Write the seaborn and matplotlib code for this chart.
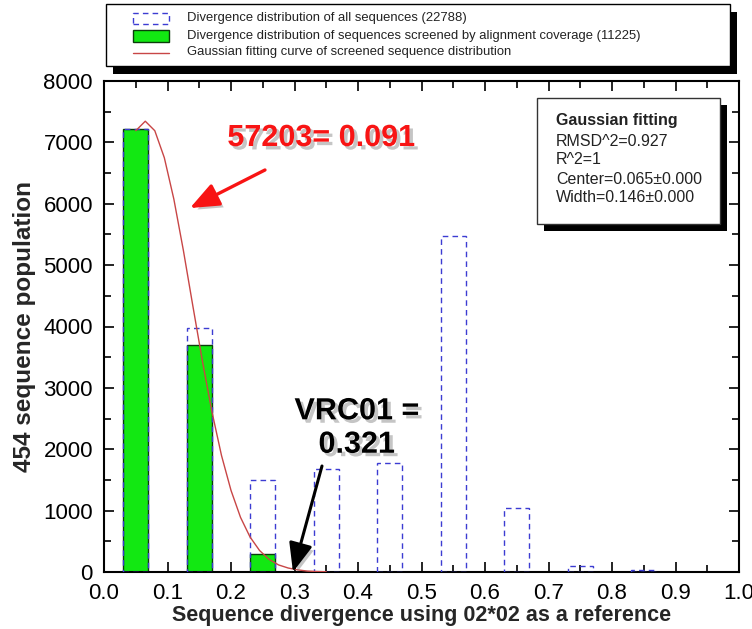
import numpy as np
import pandas as pd
import matplotlib
matplotlib.use("Agg")
import matplotlib.pyplot as plt
import seaborn as sns
from matplotlib.patches import Rectangle
from matplotlib.lines import Line2D
import matplotlib.patheffects as pe
from matplotlib.ticker import MultipleLocator

# ---------------- data ----------------
bin_centers = [0.05, 0.15, 0.25, 0.35, 0.45, 0.55, 0.65, 0.75, 0.85]
all_counts = [7220, 3970, 1500, 1675, 1775, 5470, 1040, 100, 30]
screened_centers = [0.05, 0.15, 0.25]
screened_counts = [7220, 3705, 300]

fit_x = [0.05, 0.065, 0.08, 0.095, 0.11, 0.125, 0.14, 0.155, 0.17, 0.185, 0.20,
         0.215, 0.23, 0.245, 0.26, 0.275, 0.29, 0.305, 0.32, 0.335, 0.35]
fit_y = [7190, 7345, 7190, 6750, 6075, 5240, 4330, 3435, 2610, 1900, 1330,
         890, 570, 350, 205, 115, 65, 35, 15, 8, 4]

legend_labels = ["Divergence distribution of all sequences (22788)",
                 "Divergence distribution of sequences screened by alignment coverage (11225)",
                 "Gaussian fitting curve of screened sequence distribution"]
stats_title = "Gaussian fitting"
stats_lines = ["RMSD^2=0.927", "R^2=1", "Center=0.065\u00b10.000", "Width=0.146\u00b10.000"]

x_ticks = [0.0, 0.1, 0.2, 0.3, 0.4, 0.5, 0.6, 0.7, 0.8, 0.9, 1.0]
y_ticks = [0, 1000, 2000, 3000, 4000, 5000, 6000, 7000, 8000]

x_label = "Sequence divergence using 02*02 as a reference"
y_label = "454 sequence population"

red_note = "57203= 0.091"
red_note_xy = (0.342, 7071)
red_arrow_tail = (0.2535, 6550)
red_arrow_head = (0.1354, 5930)

black_note = "VRC01 =\n0.321"
black_note_xy = (0.398, 2346)
black_arrow_tail = (0.3433, 1727)
black_arrow_head = (0.2976, 0)

# ---------------- style ----------------
W, H = 752, 629
sns.set_style("ticks")
plt.rcParams["font.family"] = ["Liberation Sans", "DejaVu Sans"]

GREEN = "#12e812"
BLUE = "#3c3cd2"
RED_CURVE = "#c84646"
RED_NOTE = "#f81414"

fig = plt.figure(figsize=(W / 100, H / 100), dpi=100)
ax = fig.add_axes([104 / W, 1 - 572 / H, (739 - 104) / W, (572 - 81) / H])

def fx(x):
    return x / W

def fy(y):
    return 1 - y / H

# screened (filled green) bars
sns.barplot(x=screened_centers, y=screened_counts, native_scale=True, width=0.4,
            color=GREEN, saturation=1, edgecolor="#0b3d0b", linewidth=1,
            errorbar=None, ax=ax, zorder=2)
# all sequences (dashed outline)
sns.barplot(x=bin_centers, y=all_counts, native_scale=True, width=0.4,
            fill=False, color=BLUE, edgecolor=BLUE, linewidth=1,
            linestyle=(0, (4, 3)), errorbar=None, ax=ax, zorder=3)
# gaussian curve
sns.lineplot(x=fit_x, y=fit_y, color=RED_CURVE, linewidth=1, sort=False,
             estimator=None, ax=ax, zorder=4)

ax.set_xlim(0, 1)
ax.set_ylim(0, 8000)
ax.set_xticks(x_ticks)
ax.set_xticklabels([f"{t:.1f}" for t in x_ticks])
ax.set_yticks(y_ticks)
ax.set_yticklabels([str(t) for t in y_ticks])
ax.xaxis.set_minor_locator(MultipleLocator(0.05))
ax.yaxis.set_minor_locator(MultipleLocator(500))
ax.tick_params(which="both", direction="in", top=True, right=True,
               labelsize=16, colors="black", width=1.2)
ax.tick_params(which="major", length=7)
ax.tick_params(which="minor", length=5)
ax.tick_params(axis="x", which="major", pad=8)
ax.tick_params(axis="y", which="major", pad=8)
for s in ax.spines.values():
    s.set_visible(True)
    s.set_linewidth(1.5)
    s.set_color("black")
ax.set_xlabel(x_label, fontsize=15.5, fontweight="bold", labelpad=1)
ax.set_ylabel(y_label, fontsize=17.5, fontweight="bold", labelpad=5)
ax.grid(False)
if ax.get_legend() is not None:
    ax.get_legend().remove()

# ---------------- annotations ----------------
shadow = [pe.SimplePatchShadow(offset=(2.5, -2.5), shadow_rgbFace="gray", alpha=0.45), pe.Normal()]
ax.text(*red_note_xy, red_note, color=RED_NOTE, fontsize=22, fontweight="bold",
        ha="center", va="center", path_effects=shadow, zorder=6)
ax.annotate("", xy=red_arrow_head, xytext=red_arrow_tail,
            arrowprops=dict(arrowstyle="-|>,head_length=1.1,head_width=0.45",
                            mutation_scale=16, color=RED_NOTE, lw=2.4,
                            shrinkA=0, shrinkB=0,
                            path_effects=shadow), zorder=6)
ax.text(*black_note_xy, black_note, color="black", fontsize=22, fontweight="bold",
        ha="center", va="center", linespacing=1.15, path_effects=shadow, zorder=6)
ax.annotate("", xy=black_arrow_head, xytext=black_arrow_tail,
            arrowprops=dict(arrowstyle="-|>,head_length=1.1,head_width=0.45",
                            mutation_scale=16, color="black", lw=2.2,
                            shrinkA=0, shrinkB=0,
                            path_effects=shadow), zorder=6)

# ---------------- legend box (figure coords) ----------------
def rect(x0, y0, x1, y1, **kw):
    r = Rectangle((fx(x0), fy(y1)), (x1 - x0) / W, (y1 - y0) / H,
                  transform=fig.transFigure, **kw)
    fig.add_artist(r)
    return r

rect(113, 12, 737, 74, facecolor="black", edgecolor="none", zorder=5)
rect(106, 4, 730, 66, facecolor="white", edgecolor="black", linewidth=1, zorder=6)
rect(133, 13, 169, 24, facecolor="none", edgecolor=BLUE, linewidth=1,
     linestyle=(0, (4, 3)), zorder=7)
rect(133, 30, 169, 42, facecolor=GREEN, edgecolor="#0b3d0b", linewidth=1, zorder=7)
fig.add_artist(Line2D([fx(133), fx(169)], [fy(52.5), fy(52.5)], color=RED_CURVE,
                      linewidth=1, transform=fig.transFigure, zorder=7))
for lab, yy in zip(legend_labels, [18.5, 36, 52.5]):
    fig.text(fx(187), fy(yy), lab, fontsize=9.4, color="#222222", ha="left",
             va="center", zorder=7)

# ---------------- stats box ----------------
rect(544, 105, 727, 231, facecolor="black", edgecolor="none", zorder=5)
rect(537, 98, 720, 224, facecolor="white", edgecolor="#333333", linewidth=1, zorder=6)
fig.text(fx(556), fy(121), stats_title, fontsize=11.5, fontweight="bold",
         color="#222222", ha="left", va="center", zorder=7)
for lab, yy in zip(stats_lines, [141, 160, 179, 198]):
    fig.text(fx(556), fy(yy), lab, fontsize=11.5, color="#222222", ha="left",
             va="center", zorder=7)

fig.savefig("out.png", dpi=100)
